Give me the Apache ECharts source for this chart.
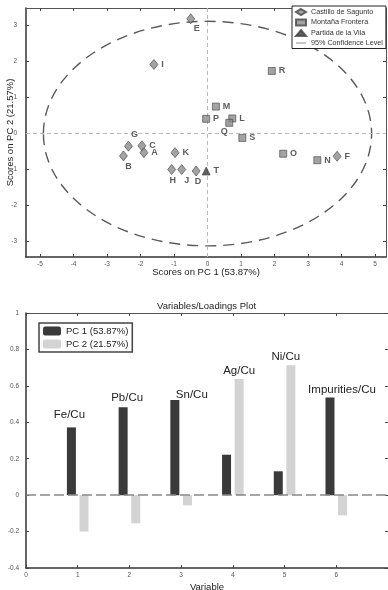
<!DOCTYPE html>
<html>
<head>
<meta charset="utf-8">
<script src="https://cdn.jsdelivr.net/npm/echarts@6/dist/echarts.min.js"></script>
<style>
  html, body { margin: 0; padding: 0; background: #fff; }
  #chart { width: 388px; height: 590px; }
</style>
</head>
<body>
<div id="chart"></div>
<script>
// ---- score plot data (PC1 / PC2) ----
const siteNames = ['Castillo de Sagunto', 'Montaña Frontera', 'Partida de la Vila']
const sampleNames = ['A', 'B', 'C', 'D', 'E', 'F', 'G', 'H', 'I', 'J', 'K',
  'L', 'M', 'N', 'O', 'P', 'Q', 'R', 'S', 'T']
const sampleSite = [0, 0, 0, 0, 0, 0, 0, 0, 0, 0, 0,
  1, 1, 1, 1, 1, 1, 1, 1, 2]
const pc1Scores = [-1.90, -2.51, -1.96, -0.34, -0.50, 3.87, -2.36, -1.07, -1.60, -0.77, -0.97,
  0.74, 0.25, 3.28, 2.26, -0.04, 0.65, 1.92, 1.04, -0.04]
const pc2Scores = [-0.53, -0.62, -0.34, -1.04, 3.19, -0.63, -0.35, -1.00, 1.92, -1.00, -0.53,
  0.42, 0.75, -0.74, -0.56, 0.41, 0.30, 1.74, -0.12, -1.04]
// 95% confidence ellipse semi-axes (PC1, PC2)
const ellipseAxes = [4.9, 3.12]
const scoreTicksX = [-5, -4, -3, -2, -1, 0, 1, 2, 3, 4, 5]
const scoreTicksY = [-3, -2, -1, 0, 1, 2, 3]

// ---- loadings data ----
const variableNames = ['Fe/Cu', 'Pb/Cu', 'Sn/Cu', 'Ag/Cu', 'Ni/Cu', 'Impurities/Cu']
const variableIndex = [1, 2, 3, 4, 5, 6]
const pc1Loadings = [0.372, 0.483, 0.523, 0.222, 0.131, 0.536]
const pc2Loadings = [-0.200, -0.155, -0.056, 0.638, 0.713, -0.111]

const FONT = '"Liberation Sans", Arial, sans-serif'
const siteSymbols = ['diamond', 'rect', 'triangle']
const siteSizes = [[8, 10], 7, 8]
const siteColors = ['#8c8c8c', '#8c8c8c', '#3a3a3a']

// label placement for point letters
const letterPos = {
  E: { position: 'bottom', offset: [6, -3] },
  G: { position: 'top', offset: [6, 1] },
  B: { position: 'bottom', offset: [5, -2] },
  H: { position: 'bottom', offset: [1, -2] },
  J: { position: 'bottom', offset: [5, -2] },
  D: { position: 'bottom', offset: [2, -2] },
  Q: { position: 'bottom', offset: [-5, -3] }
}
// loadings label offsets [dx, dy]
const varLabelOffset = [[-2, -5], [4, -1], [17, 3], [0, 0], [-5, 0], [12, 0]]

const chart = echarts.init(document.getElementById('chart'), null, { renderer: 'canvas' })

const axisLineDark = { onZero: false, lineStyle: { color: '#333', width: 1.5 } }
const axisLineThin = { onZero: false, lineStyle: { color: '#555', width: 1 } }
const tickLbl = { fontSize: 6.5, color: '#555', fontFamily: FONT }

function scatterSeries(site) {
  const data = []
  sampleNames.forEach((n, i) => {
    if (sampleSite[i] !== site) return
    const item = { name: n, value: [pc1Scores[i], pc2Scores[i]] }
    if (letterPos[n]) item.label = letterPos[n]
    data.push(item)
  })
  return {
    type: 'scatter',
    name: siteNames[site],
    xAxisIndex: 0,
    yAxisIndex: 0,
    symbol: siteSymbols[site],
    symbolSize: siteSizes[site],
    itemStyle: { color: siteColors[site], borderColor: '#444', borderWidth: 0.8 },
    label: {
      show: true,
      position: 'right',
      distance: 3,
      formatter: '{b}',
      fontSize: 9,
      fontWeight: 'bold',
      color: '#333',
      fontFamily: FONT
    },
    data: data,
    z: 5
  }
}

function loadingData(values, other) {
  return values.map((v, i) => {
    const item = { value: [variableIndex[i], v] }
    if (v > 0 && v >= other[i]) {
      item.label = {
        show: true,
        position: 'top',
        distance: 2,
        offset: varLabelOffset[i],
        formatter: variableNames[i],
        fontSize: 11.5,
        color: '#222',
        fontFamily: FONT
      }
    }
    return item
  })
}

chart.setOption({
  animation: false,
  textStyle: { fontFamily: FONT },
  title: {
    text: 'Variables/Loadings Plot',
    left: 152,
    top: 296,
    textStyle: { fontSize: 9.5, fontWeight: 'normal', color: '#222' }
  },
  legend: [
    {
      orient: 'vertical',
      left: 292,
      top: 6,
      itemWidth: 10,
      itemHeight: 6,
      itemGap: 2.5,
      padding: [2, 3, 2, 3],
      borderColor: '#222',
      borderWidth: 1,
      backgroundColor: '#fff',
      textStyle: { fontSize: 7.2, color: '#333' },
      data: [
        { name: siteNames[0] },
        { name: siteNames[1] },
        { name: siteNames[2] },
        { name: '95% Confidence Level', icon: 'path://M0,0H30V2H0Z', itemStyle: { color: '#555' } }
      ]
    },
    {
      orient: 'vertical',
      left: 39,
      top: 323,
      itemWidth: 18,
      itemHeight: 9,
      itemGap: 3,
      padding: [3, 4, 3, 4],
      borderColor: '#444',
      borderWidth: 1.5,
      backgroundColor: '#fff',
      textStyle: { fontSize: 9.5, color: '#222' },
      data: ['PC 1 (53.87%)', 'PC 2 (21.57%)']
    }
  ],
  grid: [
    { left: 26, right: 2, top: 8, height: 249, outerBoundsMode: 'none' },
    { left: 26, right: 0, top: 313, bottom: 22, outerBoundsMode: 'none' }
  ],
  xAxis: [
    {
      type: 'value', gridIndex: 0, min: -5.42, max: 5.33,
      name: 'Scores on PC 1 (53.87%)', nameLocation: 'middle', nameGap: 10, nameMoveOverlap: false,
      nameTextStyle: { fontSize: 9.5, color: '#222' },
      axisLine: axisLineDark,
      axisTick: { inside: true, length: 3, customValues: scoreTicksX, lineStyle: { color: '#444' } },
      axisLabel: Object.assign({ customValues: scoreTicksX, margin: 4 }, tickLbl),
      splitLine: { show: false }
    },
    {
      type: 'value', gridIndex: 0, position: 'top', min: -5.42, max: 5.33,
      axisLine: axisLineThin,
      axisTick: { inside: true, length: 3, customValues: scoreTicksX, lineStyle: { color: '#444' } },
      axisLabel: { show: false },
      splitLine: { show: false }
    },
    {
      type: 'value', gridIndex: 1, min: 0, max: 7, interval: 1,
      name: 'Variable', nameLocation: 'middle', nameGap: 14, nameMoveOverlap: false,
      nameTextStyle: { fontSize: 9.5, color: '#222' },
      axisLine: axisLineDark,
      axisTick: { inside: true, length: 3, lineStyle: { color: '#444' } },
      axisLabel: Object.assign({ margin: 4, formatter: v => (v === 7 ? '' : v) }, tickLbl),
      splitLine: { show: false }
    },
    {
      type: 'value', gridIndex: 1, position: 'top', min: 0, max: 7, interval: 1,
      axisLine: axisLineThin,
      axisTick: { inside: true, length: 3, lineStyle: { color: '#444' } },
      axisLabel: { show: false },
      splitLine: { show: false }
    }
  ],
  yAxis: [
    {
      type: 'value', gridIndex: 0, min: -3.43, max: 3.49,
      name: 'Scores on PC 2 (21.57%)', nameLocation: 'middle', nameGap: 11, nameMoveOverlap: false,
      nameTextStyle: { fontSize: 9.5, color: '#222' },
      axisLine: axisLineDark,
      axisTick: { inside: true, length: 3, customValues: scoreTicksY, lineStyle: { color: '#444' } },
      axisLabel: Object.assign({ customValues: scoreTicksY, margin: 9 }, tickLbl),
      splitLine: { show: false }
    },
    {
      type: 'value', gridIndex: 0, position: 'right', min: -3.43, max: 3.49,
      axisLine: axisLineThin,
      axisTick: { inside: true, length: 3, customValues: scoreTicksY, lineStyle: { color: '#444' } },
      axisLabel: { show: false },
      splitLine: { show: false }
    },
    {
      type: 'value', gridIndex: 1, min: -0.4, max: 1, interval: 0.2,
      axisLine: axisLineDark,
      axisTick: { inside: true, length: 3, lineStyle: { color: '#444' } },
      axisLabel: Object.assign({ margin: 7, formatter: v => +v.toFixed(1) }, tickLbl),
      splitLine: { show: false }
    },
    {
      type: 'value', gridIndex: 1, position: 'right', min: -0.4, max: 1, interval: 0.2,
      axisLine: axisLineThin,
      axisTick: { inside: true, length: 3, lineStyle: { color: '#444' } },
      axisLabel: { show: false },
      splitLine: { show: false }
    }
  ],
  series: [
    {
      type: 'custom',
      name: '95% Confidence Level',
      xAxisIndex: 0,
      yAxisIndex: 0,
      silent: true,
      data: [ellipseAxes],
      itemStyle: { color: '#555' },
      renderItem: function (params, api) {
        const c = api.coord([0, 0])
        const s = api.size([api.value(0), api.value(1)])
        return {
          type: 'ellipse',
          shape: { cx: c[0], cy: c[1], rx: s[0], ry: s[1] },
          style: { fill: 'none', stroke: '#5a5a5a', lineWidth: 1.4, lineDash: [11, 7] }
        }
      },
      markLine: {
        silent: true,
        symbol: 'none',
        label: { show: false },
        lineStyle: { color: '#bbb', width: 1, type: [4, 3] },
        data: [{ xAxis: 0 }, { yAxis: 0 }]
      },
      z: 1
    },
    scatterSeries(0),
    scatterSeries(1),
    scatterSeries(2),
    {
      type: 'bar',
      name: 'PC 1 (53.87%)',
      xAxisIndex: 2,
      yAxisIndex: 2,
      barWidth: 9,
      barGap: '40%',
      itemStyle: { color: '#3a3a3a' },
      data: loadingData(pc1Loadings, pc2Loadings),
      markLine: {
        silent: true,
        symbol: 'none',
        label: { show: false },
        lineStyle: { color: '#888', width: 1.5, type: [10, 4] },
        data: [{ yAxis: 0 }]
      }
    },
    {
      type: 'bar',
      name: 'PC 2 (21.57%)',
      xAxisIndex: 2,
      yAxisIndex: 2,
      barWidth: 9,
      barGap: '40%',
      itemStyle: { color: '#d3d3d3' },
      data: loadingData(pc2Loadings, pc1Loadings)
    }
  ]
})
</script>
</body>
</html>
